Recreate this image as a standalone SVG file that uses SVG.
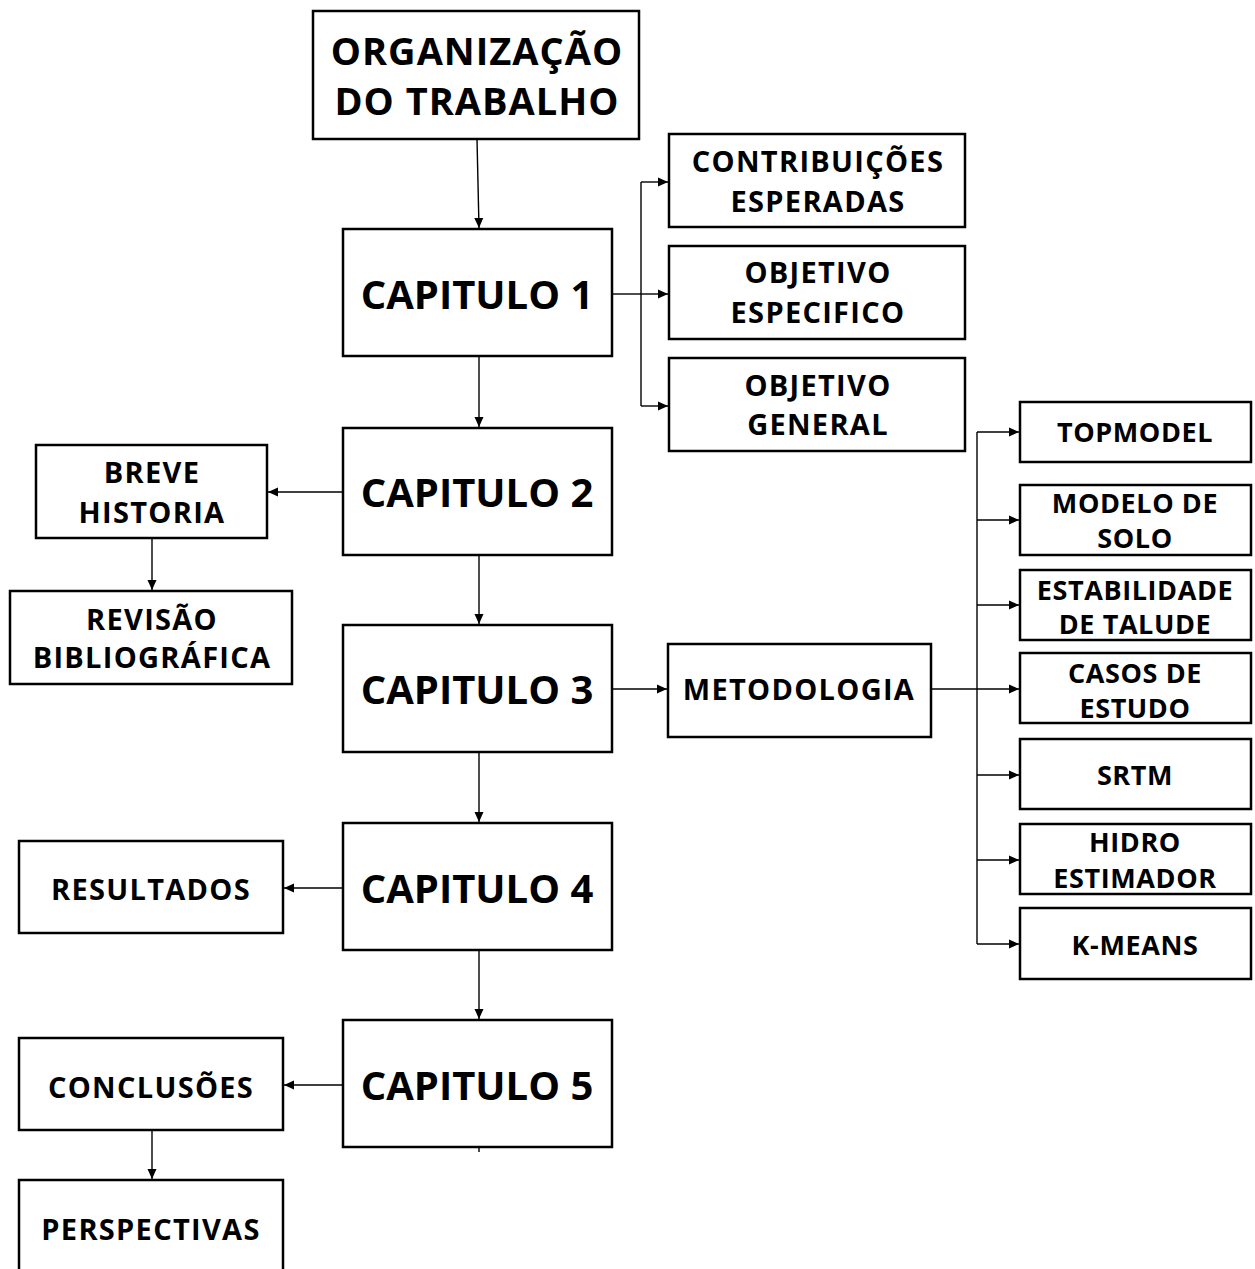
<svg xmlns="http://www.w3.org/2000/svg" width="1255" height="1269" viewBox="0 0 1255 1269">
<defs>
<marker id="ah" markerUnits="userSpaceOnUse" markerWidth="10" markerHeight="10" viewBox="0 0 10 10" refX="10" refY="5" orient="auto">
<path d="M0,0.5 L10,5 L0,9.5 Z" fill="#000"/>
</marker>
<style>
rect{fill:#fff;stroke:#000;stroke-width:2.5}
text{font-family:"Open Sans","DejaVu Sans",sans-serif;font-weight:bold;fill:#000;text-anchor:middle}
.big{font-size:40px}
.org{font-size:38px;letter-spacing:1px}
.m{font-size:29px;letter-spacing:1.3px}
.s{font-size:27px;letter-spacing:0.6px}
#connectors path{fill:none;stroke:#000;stroke-width:1.4}
</style>
</defs>
<rect x="0" y="0" width="1255" height="1269" style="fill:#fff;stroke:none"/>
<g id="connectors">
<path d="M477,139 L479,228" marker-end="url(#ah)"/>
<path d="M479,356 L479,427" marker-end="url(#ah)"/>
<path d="M479,555 L479,624" marker-end="url(#ah)"/>
<path d="M479,752 L479,822" marker-end="url(#ah)"/>
<path d="M479,950 L479,1019" marker-end="url(#ah)"/>
<path d="M479,1147 L479,1152"/>
<path d="M612,294 L641,294"/>
<path d="M641,182 L641,406"/>
<path d="M641,182 L668,182" marker-end="url(#ah)"/>
<path d="M641,294 L668,294" marker-end="url(#ah)"/>
<path d="M641,406 L668,406" marker-end="url(#ah)"/>
<path d="M343,492 L268,492" marker-end="url(#ah)"/>
<path d="M152,538 L152,590" marker-end="url(#ah)"/>
<path d="M612,689 L667,689" marker-end="url(#ah)"/>
<path d="M931,689 L977,689"/>
<path d="M977,432 L977,944"/>
<path d="M977,432 L1019,432" marker-end="url(#ah)"/>
<path d="M977,520 L1019,520" marker-end="url(#ah)"/>
<path d="M977,605 L1019,605" marker-end="url(#ah)"/>
<path d="M977,689 L1019,689" marker-end="url(#ah)"/>
<path d="M977,775 L1019,775" marker-end="url(#ah)"/>
<path d="M977,860 L1019,860" marker-end="url(#ah)"/>
<path d="M977,944 L1019,944" marker-end="url(#ah)"/>
<path d="M343,888 L284,888" marker-end="url(#ah)"/>
<path d="M343,1085 L284,1085" marker-end="url(#ah)"/>
<path d="M152,1130 L152,1179" marker-end="url(#ah)"/>
</g>
<g id="org"><rect x="313" y="11" width="326" height="128"/><text class="org" x="477" y="65">ORGANIZAÇÃO</text><text class="org" x="477" y="115">DO TRABALHO</text></g>
<g id="cap1"><rect x="343" y="229" width="269" height="127"/><text class="big" x="477" y="309">CAPITULO 1</text></g>
<g id="cap2"><rect x="343" y="428" width="269" height="127"/><text class="big" x="477" y="507">CAPITULO 2</text></g>
<g id="cap3"><rect x="343" y="625" width="269" height="127"/><text class="big" x="477" y="704">CAPITULO 3</text></g>
<g id="cap4"><rect x="343" y="823" width="269" height="127"/><text class="big" x="477" y="903">CAPITULO 4</text></g>
<g id="cap5"><rect x="343" y="1020" width="269" height="127"/><text class="big" x="477" y="1100">CAPITULO 5</text></g>
<g id="contrib"><rect x="669" y="134" width="296" height="93"/><text class="m" x="818" y="172">CONTRIBUIÇÕES</text><text class="m" x="818" y="212">ESPERADAS</text></g>
<g id="objesp"><rect x="669" y="246" width="296" height="93"/><text class="m" x="818" y="283">OBJETIVO</text><text class="m" x="818" y="323">ESPECIFICO</text></g>
<g id="objgen"><rect x="669" y="358" width="296" height="93"/><text class="m" x="818" y="396">OBJETIVO</text><text class="m" x="818" y="435">GENERAL</text></g>
<g id="metodologia"><rect x="668" y="644" width="263" height="93"/><text class="m" x="799" y="700">METODOLOGIA</text></g>
<g id="topmodel"><rect x="1020" y="402" width="231" height="60"/><text class="s" x="1135" y="442">TOPMODEL</text></g>
<g id="modelo"><rect x="1020" y="485" width="231" height="70"/><text class="s" x="1135" y="513">MODELO DE</text><text class="s" x="1135" y="548">SOLO</text></g>
<g id="estab"><rect x="1020" y="570" width="231" height="70"/><text class="s" x="1135" y="600">ESTABILIDADE</text><text class="s" x="1135" y="634">DE TALUDE</text></g>
<g id="casos"><rect x="1020" y="653" width="231" height="70"/><text class="s" x="1135" y="683">CASOS DE</text><text class="s" x="1135" y="718">ESTUDO</text></g>
<g id="srtm"><rect x="1020" y="739" width="231" height="70"/><text class="s" x="1135" y="785">SRTM</text></g>
<g id="hidro"><rect x="1020" y="824" width="231" height="70"/><text class="s" x="1135" y="852">HIDRO</text><text class="s" x="1135" y="888">ESTIMADOR</text></g>
<g id="kmeans"><rect x="1020" y="908" width="231" height="71"/><text class="s" x="1135" y="955">K-MEANS</text></g>
<g id="breve"><rect x="36" y="445" width="231" height="93"/><text class="m" x="152" y="483">BREVE</text><text class="m" x="152" y="523">HISTORIA</text></g>
<g id="revisao"><rect x="10" y="591" width="282" height="93"/><text class="m" x="152" y="630">REVISÃO</text><text class="m" x="152" y="668">BIBLIOGRÁFICA</text></g>
<g id="resultados"><rect x="19" y="841" width="264" height="92"/><text class="m" x="151" y="900">RESULTADOS</text></g>
<g id="conclusoes"><rect x="19" y="1038" width="264" height="92"/><text class="m" x="151" y="1098">CONCLUSÕES</text></g>
<g id="perspectivas"><rect x="19" y="1180" width="264" height="100"/><text class="m" x="151" y="1240">PERSPECTIVAS</text></g>
</svg>
